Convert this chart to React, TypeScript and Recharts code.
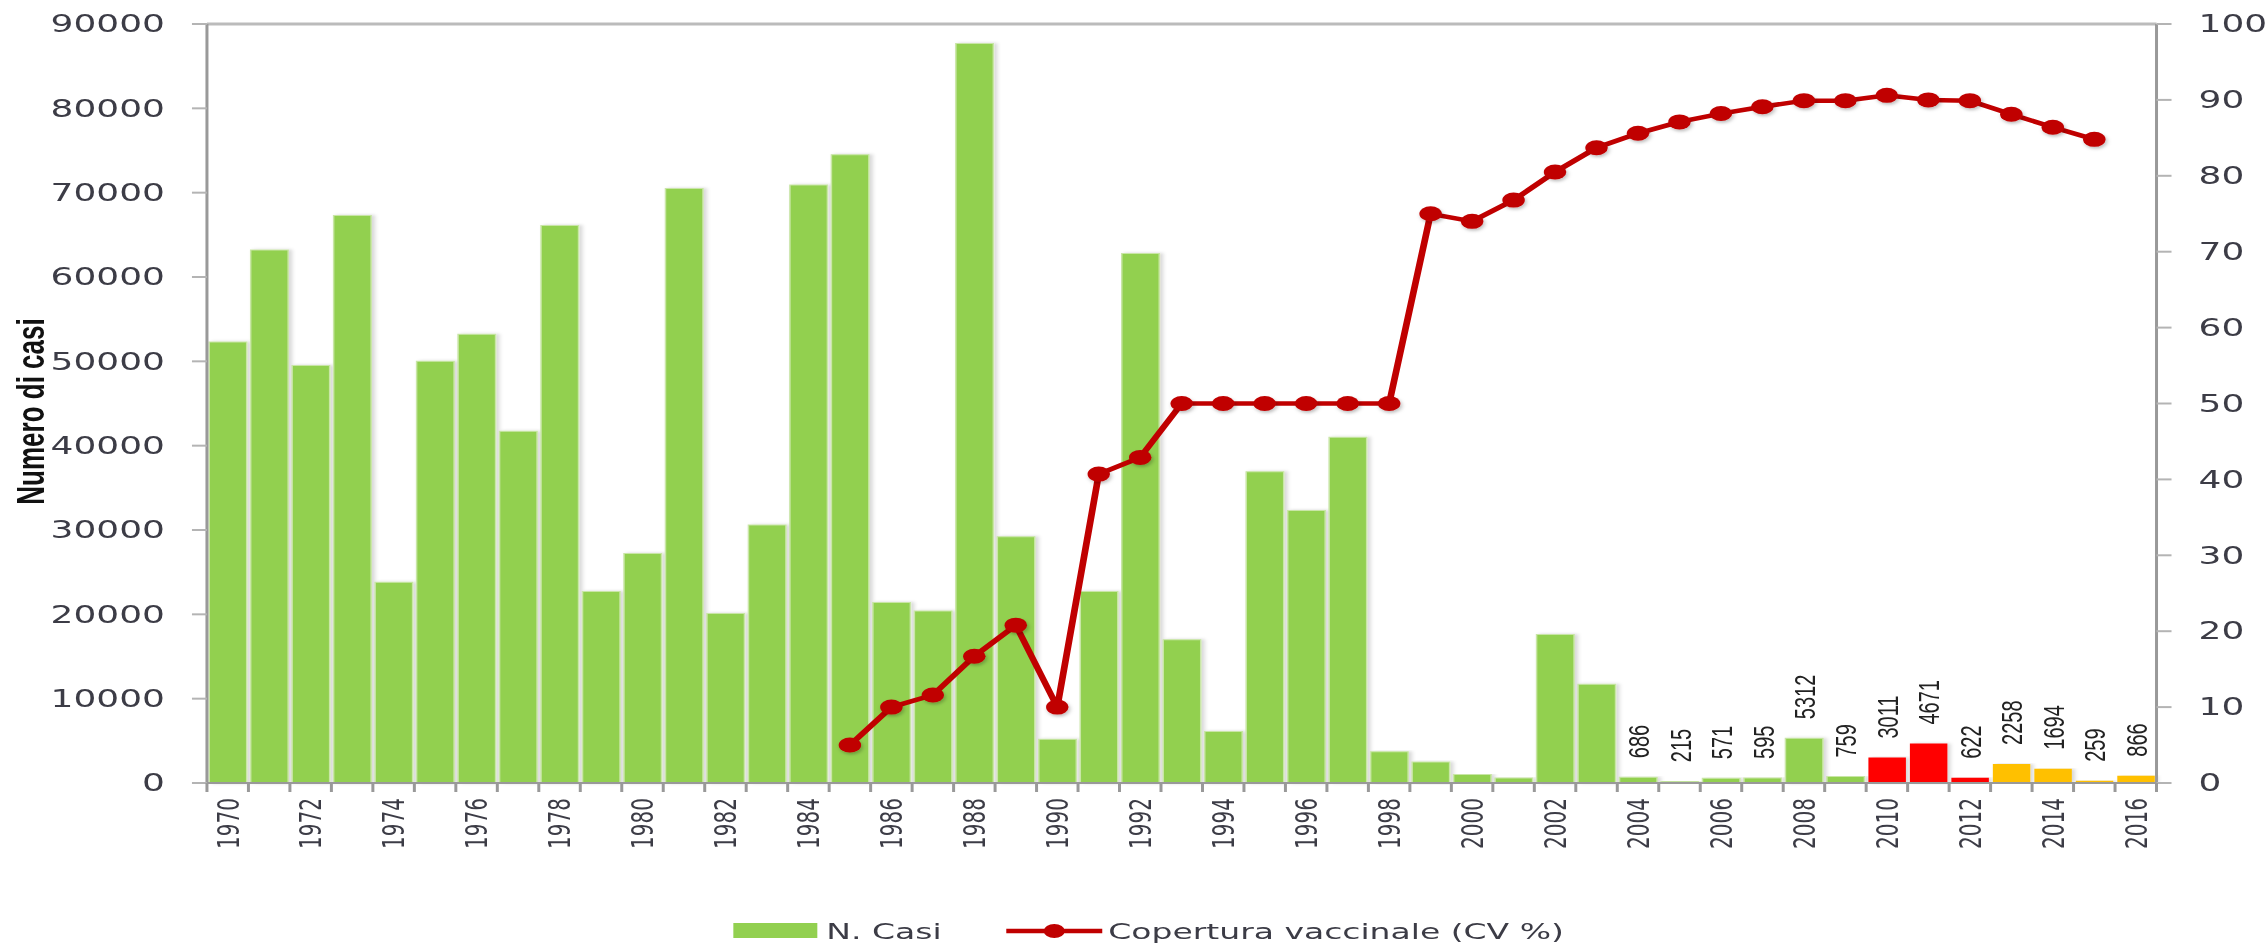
import React from "react";
import { ComposedChart, Bar, Line, XAxis, YAxis, ReferenceLine, Cell, LabelList } from "recharts";

const years = [
  "1970", "1971", "1972", "1973", "1974", "1975", "1976", "1977", "1978", "1979",
  "1980", "1981", "1982", "1983", "1984", "1985", "1986", "1987", "1988", "1989",
  "1990", "1991", "1992", "1993", "1994", "1995", "1996", "1997", "1998", "1999",
  "2000", "2001", "2002", "2003", "2004", "2005", "2006", "2007", "2008", "2009",
  "2010", "2011", "2012", "2013", "2014", "2015", "2016",
];

// N. casi per anno
const cases = [
  52300, 63200, 49500, 67300, 23800, 50000, 53200, 41700, 66100, 22700,
  27200, 70500, 20100, 30600, 70900, 74500, 21400, 20400, 87700, 29200,
  5200, 22700, 62800, 17000, 6100, 36900, 32300, 41000, 3700, 2500,
  1000, 600, 17600, 11700, 686, 215, 571, 595, 5312, 759,
  3011, 4671, 622, 2258, 1694, 259, 866,
];

// Copertura vaccinale (%), disponibile dal 1985 al 2015
const coverage = [
  null, null, null, null, null, null, null, null, null, null,
  null, null, null, null, null, 5, 10, 11.6, 16.7, 20.8,
  10, 40.7, 42.9, 50, 50, 50, 50, 50, 50, 75,
  74, 76.8, 80.5, 83.7, 85.6, 87.1, 88.2, 89.1, 89.9, 89.9,
  90.6, 90, 89.9, 88.1, 86.4, 84.8, null,
];

// anni recenti con il valore scritto sopra la barra
const labelledFrom = 2004;

const leftTicks = [0, 10000, 20000, 30000, 40000, 50000, 60000, 70000, 80000, 90000];
const rightTicks = [0, 10, 20, 30, 40, 50, 60, 70, 80, 90, 100];

const rows = years.map((year, i) => ({ year, casi: cases[i], cv: coverage[i] }));

// the chart is laid out narrow and stretched sideways to the page width
const PAGE_W = 2266;
const PAGE_H = 945;
const W = 1511;
const LEFT_W = 138;
const RIGHT_W = 73;
const PLOT_W = W - LEFT_W - RIGHT_W;
const BAND = PLOT_W / years.length;

const GREEN = "#92D050";
const RED = "#FF0000";
const ORANGE = "#FFC000";
const LINE_RED = "#C00000";
const TEXT = "#3c3c46";
const FONT = "'DejaVu Sans', Verdana, sans-serif";

function barColor(year: string) {
  const y = Number(year);
  if (y >= 2010 && y <= 2012) return RED;
  if (y >= 2013) return ORANGE;
  return GREEN;
}

function LeftTick({ x, y, payload }: any) {
  return (
    <text x={x - 18} y={y} textAnchor="end" dominantBaseline="central" fontSize={24} fontFamily={FONT} fill={TEXT}>
      {payload.value}
    </text>
  );
}

function RightTick({ x, y, payload }: any) {
  return (
    <text x={x + 18} y={y} textAnchor="start" dominantBaseline="central" fontSize={24} fontFamily={FONT} fill={TEXT}>
      {payload.value}
    </text>
  );
}

function YearTick({ x, y, payload, index }: any) {
  const left = x - BAND / 2;
  const isLast = index === years.length - 1;
  return (
    <g>
      <line x1={left} x2={left} y1={y} y2={y + 9} stroke="#999" strokeWidth={2} />
      {isLast && <line x1={x + BAND / 2} x2={x + BAND / 2} y1={y} y2={y + 9} stroke="#999" strokeWidth={2} />}
      {Number(payload.value) % 2 === 0 && (
        <text
          transform={`translate(${x},${y + 15}) rotate(-90)`}
          textAnchor="end"
          dy="0.36em"
          fontSize={20}
          fontFamily={FONT}
          fill={TEXT}
        >
          {payload.value}
        </text>
      )}
    </g>
  );
}

function ValueLabel({ x, y, width, value, index }: any) {
  if (Number(years[index]) < labelledFrom) return null;
  const cx = x + width / 2;
  return (
    <text
      transform={`translate(${cx},${y - 19}) rotate(-90)`}
      textAnchor="start"
      dy="0.36em"
      fontSize={20}
      fontFamily="'Liberation Sans', Arial, sans-serif"
      fill="#222"
    >
      {value}
    </text>
  );
}

function CvDot({ cx, cy, index }: any) {
  if (cy == null || Number.isNaN(cy)) return <g key={`d${index}`} />;
  return <circle key={`d${index}`} cx={cx} cy={cy} r={7.5} fill={LINE_RED} filter="url(#dotShadow)" />;
}

function AxisTitle({ viewBox }: any) {
  const cy = viewBox.y + viewBox.height / 2 + 8;
  return (
    <text
      transform={`translate(20,${cy}) rotate(-90)`}
      textAnchor="middle"
      dominantBaseline="central"
      fontSize={26}
      fontWeight="bold"
      fontFamily="'Liberation Sans', Arial, sans-serif"
      fill="#111"
    >
      Numero di casi
    </text>
  );
}

function LegendRow() {
  const text = { position: "absolute" as const, top: 931, transform: "translateY(-50%)", fontSize: 22, fontFamily: FONT, color: TEXT, whiteSpace: "nowrap" as const };
  return (
    <>
      <div style={{ position: "absolute", left: 489, top: 923, width: 56, height: 15, background: GREEN }} />
      <div style={{ ...text, left: 551 }}>N. Casi</div>
      <svg style={{ position: "absolute", left: 668, top: 920 }} width={70} height={22}>
        <line x1={3} x2={67} y1={11} y2={11} stroke={LINE_RED} strokeWidth={4.5} />
        <circle cx={35} cy={11} r={7} fill={LINE_RED} />
      </svg>
      <div style={{ ...text, left: 739 }}>Copertura vaccinale (CV %)</div>
    </>
  );
}

export default function App() {
  return (
    <div style={{ position: "absolute", left: 0, top: 0, width: PAGE_W, height: PAGE_H, overflow: "hidden", background: "#fff" }}>
      <div style={{ position: "relative", width: W, height: PAGE_H, transform: `scaleX(${PAGE_W / W})`, transformOrigin: "0 0" }}>
        <ComposedChart width={W} height={PAGE_H} data={rows} margin={{ top: 24, right: 0, bottom: 0, left: 0 }} barCategoryGap={1.5}>
          <defs>
            <filter id="barShadow" x="-20%" y="-5%" width="140%" height="110%">
              <feDropShadow dx={2} dy={0} stdDeviation={1.5} floodColor="#000" floodOpacity={0.16} />
            </filter>
            <filter id="dotShadow" x="-50%" y="-50%" width="200%" height="200%">
              <feDropShadow dx={1} dy={2} stdDeviation={1.5} floodColor="#000" floodOpacity={0.25} />
            </filter>
          </defs>
          <XAxis
            dataKey="year"
            interval={0}
            height={PAGE_H - 783}
            tickLine={false}
            tickSize={0}
            tickMargin={0}
            axisLine={{ stroke: "#999", strokeWidth: 2 }}
            tick={<YearTick />}
          />
          <YAxis
            yAxisId="left"
            width={LEFT_W}
            domain={[0, 90000]}
            ticks={leftTicks}
            interval={0}
            tickSize={10}
            tickMargin={0}
            axisLine={{ stroke: "#999", strokeWidth: 2 }}
            tickLine={{ stroke: "#b4b4b4", strokeWidth: 2 }}
            tick={<LeftTick />}
            label={{ content: <AxisTitle /> }}
          />
          <YAxis
            yAxisId="right"
            orientation="right"
            width={RIGHT_W}
            domain={[0, 100]}
            ticks={rightTicks}
            interval={0}
            tickSize={10}
            tickMargin={0}
            axisLine={{ stroke: "#999", strokeWidth: 2 }}
            tickLine={{ stroke: "#b4b4b4", strokeWidth: 2 }}
            tick={<RightTick />}
          />
          <ReferenceLine yAxisId="left" y={90000} stroke="#bbb" strokeWidth={3} />
          <Bar yAxisId="left" dataKey="casi" isAnimationActive={false} stroke="#c9e6a6" strokeWidth={1} filter="url(#barShadow)">
            {rows.map((r) => (
              <Cell key={r.year} fill={barColor(r.year)} stroke={barColor(r.year) === GREEN ? "#c9e6a6" : "none"} />
            ))}
            <LabelList dataKey="casi" content={<ValueLabel />} />
          </Bar>
          <Line
            yAxisId="right"
            dataKey="cv"
            stroke={LINE_RED}
            strokeWidth={4.5}
            dot={<CvDot />}
            activeDot={false}
            isAnimationActive={false}
          />
        </ComposedChart>
        <LegendRow />
      </div>
    </div>
  );
}
